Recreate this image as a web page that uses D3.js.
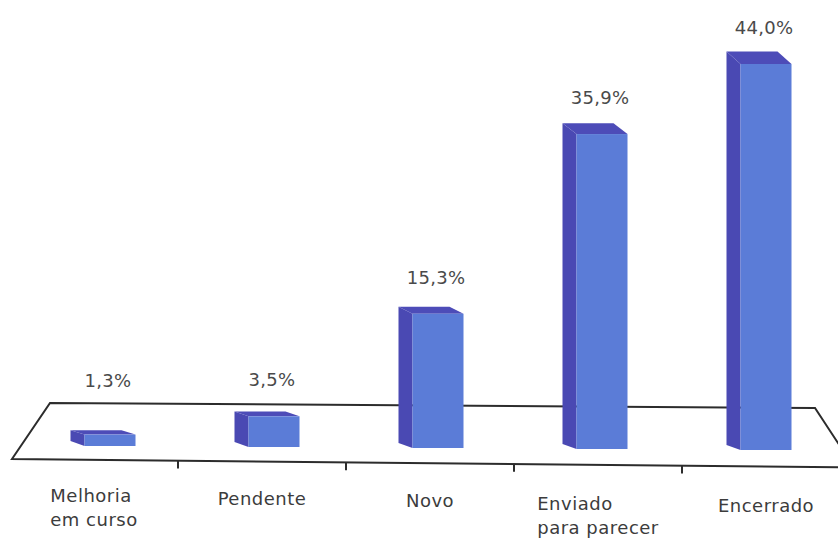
<!DOCTYPE html>
<html>
<head>
<meta charset="utf-8">
<script src="https://cdn.jsdelivr.net/npm/d3@7"></script>
<style>
  html, body { margin: 0; padding: 0; background: #fff; }
  svg { display: block; }
</style>
</head>
<body>
<svg id="chart" width="838" height="539"></svg>
<script>
// ---- data ----
const categories = ["Melhoria em curso", "Pendente", "Novo", "Enviado para parecer", "Encerrado"];
const categoryLines = [["Melhoria", "em curso"], ["Pendente"], ["Novo"], ["Enviado", "para parecer"], ["Encerrado"]];
const values = [1.3, 3.5, 15.3, 35.9, 44.0];

// ---- setup ----
const W = 838, H = 539;
const svg = d3.select("#chart");
const ptLocale = d3.formatLocale({ decimal: ",", thousands: ".", grouping: [3], currency: ["R$", ""] });
const fmt = ptLocale.format(".1f");

const xAxis = d3.scaleBand().domain(categories).range([10, 850]);
const xBar = d3.scaleBand().domain(categories).range([28, 848]);
const y = d3.scaleLinear().domain([0, 44]).range([0, 386]);

const frontLeft = [12, 459], frontRight = [838, 467];
const frontY = x => frontLeft[1] + (x - frontLeft[0]) * (frontRight[1] - frontLeft[1]) / (frontRight[0] - frontLeft[0]);
const barBase = x => 446 + (x - 110) * 4 / 656;
const frontW = 51, depthX = 14, depthBottom = 5;

// ---- floor ----
const floorPts = [[50, 403], [815, 408], [854, 467.3], frontLeft];
svg.append("path")
  .attr("d", d3.line()(floorPts) + "Z")
  .attr("fill", "#fff")
  .attr("stroke", "#2c2c2c")
  .attr("stroke-width", 2)
  .attr("stroke-linejoin", "miter");

// ticks
categories.slice(1).forEach(c => {
  const tx = xAxis(c);
  const ty = frontY(tx);
  svg.append("line")
    .attr("x1", tx).attr("x2", tx)
    .attr("y1", ty).attr("y2", ty + 8)
    .attr("stroke", "#2c2c2c").attr("stroke-width", 2);
});

// ---- bars ----
const dark = "#4a49b3", darkTop = "#4d4cb8", light = "#5b7cd7";
const bars = svg.append("g");
categories.forEach((c, i) => {
  const cx = xBar(c) + xBar.bandwidth() / 2;
  const fx0 = cx - frontW / 2, fx1 = cx + frontW / 2;
  const yb = barBase(cx);
  const h = y(values[i]);
  const top = yb - h;
  const dyT = 4 + 0.022 * h;
  const g = bars.append("g");
  // side face
  g.append("path")
    .attr("d", d3.line()([[fx0, top], [fx0 - depthX, top - dyT], [fx0 - depthX, yb - depthBottom], [fx0, yb]]) + "Z")
    .attr("fill", dark);
  // top face
  g.append("path")
    .attr("d", d3.line()([[fx0, top], [fx1, top], [fx1 - depthX, top - dyT], [fx0 - depthX, top - dyT]]) + "Z")
    .attr("fill", darkTop);
  // front face
  g.append("rect")
    .attr("x", fx0).attr("y", top)
    .attr("width", frontW).attr("height", h)
    .attr("fill", light);
  // value label
  const ly = Math.min(top - 30, 387);
  svg.append("text")
    .attr("x", cx - 2).attr("y", ly)
    .attr("text-anchor", "middle")
    .attr("font-family", "DejaVu Sans, sans-serif")
    .attr("font-size", 18)
    .attr("letter-spacing", 0.3)
    .attr("fill", "#4a4a4a")
    .text(fmt(values[i]) + "%");
});

// ---- category labels ----
categories.forEach((c, i) => {
  const cx = xAxis(c) + xAxis.bandwidth() / 2;
  const base = 502 + (cx - 94) * 10 / 672;
  const t = svg.append("text")
    .attr("font-family", "DejaVu Sans, sans-serif")
    .attr("font-size", 18)
    .attr("letter-spacing", 0.5)
    .attr("fill", "#3c3c3c");
  const lines = categoryLines[i];
  const spans = lines.map((ln, k) => t.append("tspan").attr("y", base + k * 24).text(ln));
  const widths = spans.map(s => s.node().getComputedTextLength());
  const maxW = d3.max(widths);
  const x0 = cx - maxW / 2;
  spans.forEach(s => s.attr("x", x0));
});
</script>
</body>
</html>
